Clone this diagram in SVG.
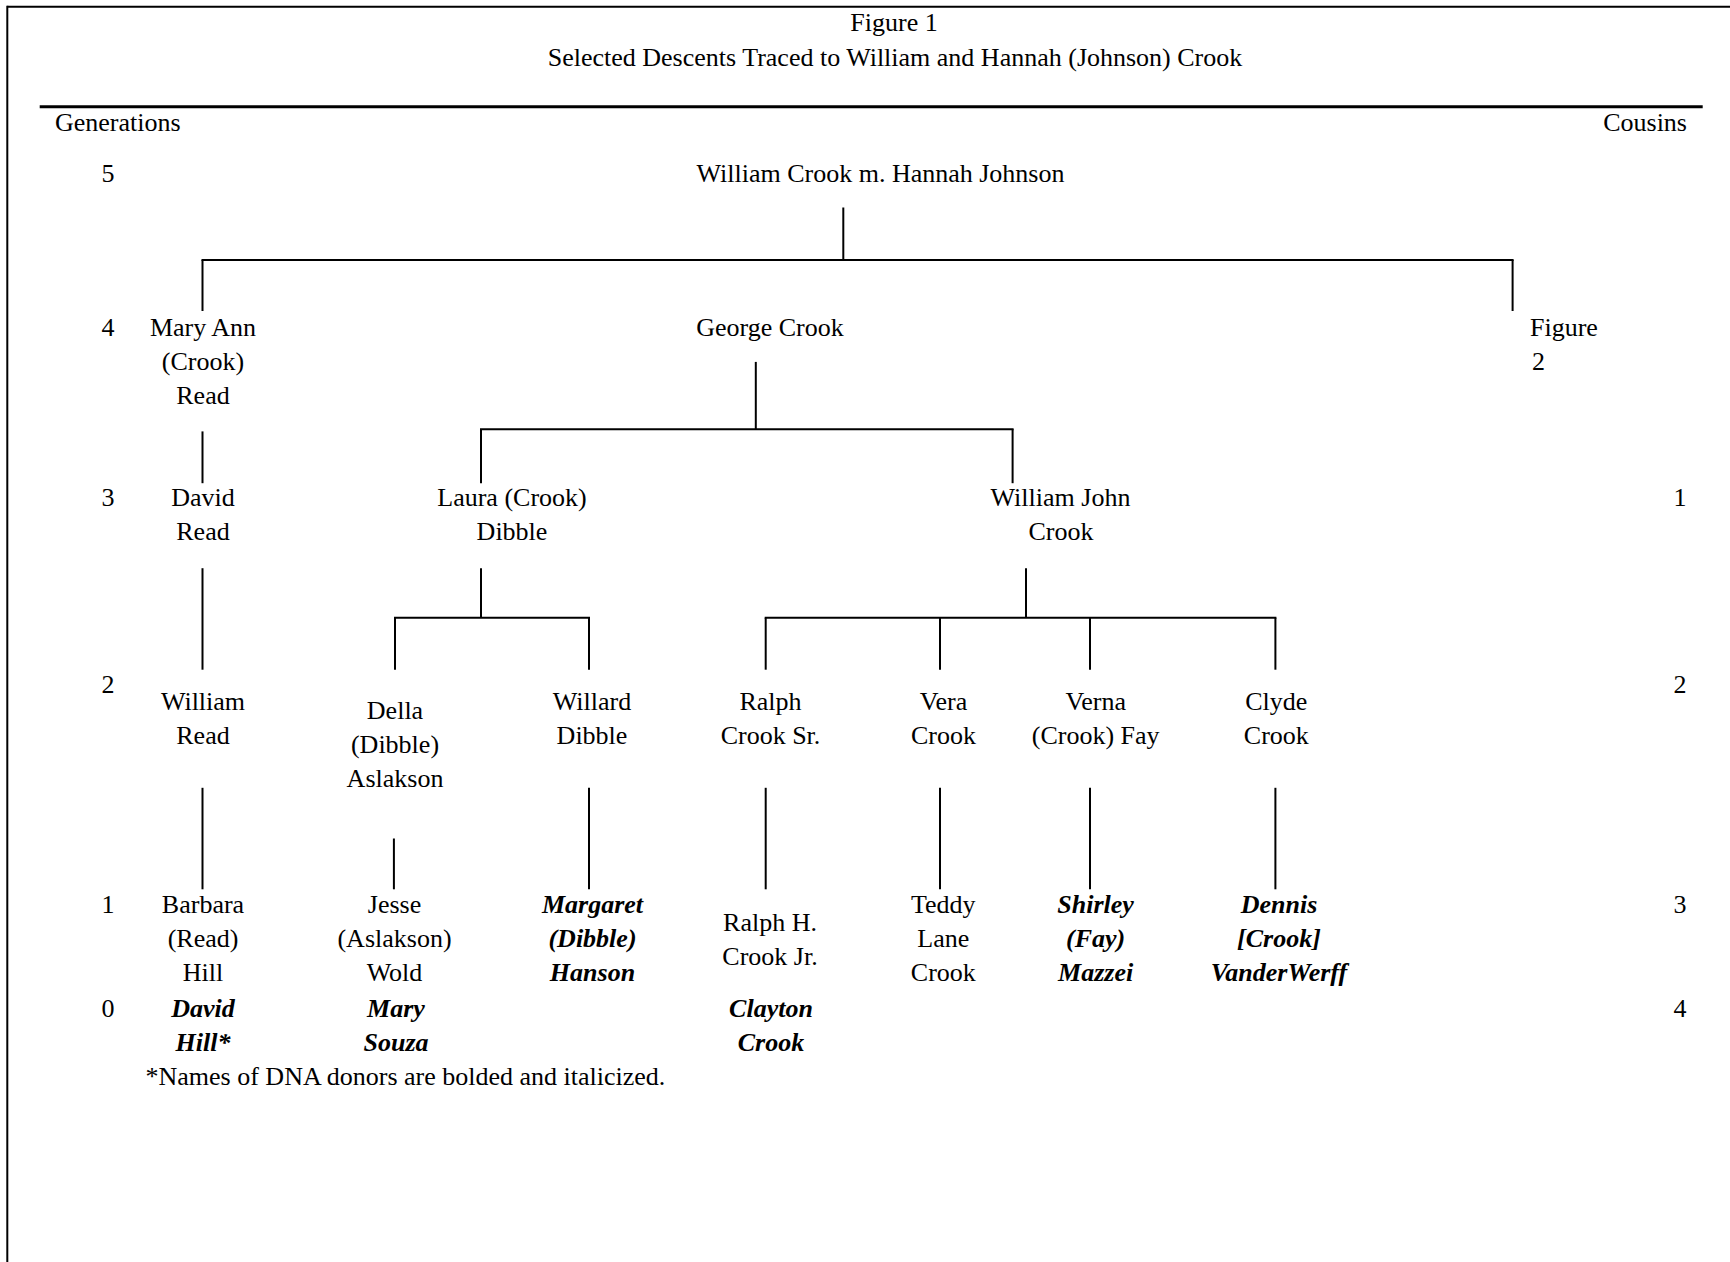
<svg xmlns="http://www.w3.org/2000/svg" width="1730" height="1262" viewBox="0 0 1730 1262">
<style>
text{font-family:"Liberation Serif","Times New Roman",serif;font-size:26px;fill:#000;text-anchor:middle}
.l{text-anchor:start}
.r{text-anchor:end}
.d{font-weight:bold;font-style:italic}
.c line{stroke:#000;stroke-width:2}
</style>
<rect width="1730" height="1262" fill="#fff"/>
<g id="frame">
<line x1="7.3" y1="6.7" x2="1730" y2="6.7" stroke="#000" stroke-width="2"/>
<line x1="7.3" y1="5.7" x2="7.3" y2="1262" stroke="#000" stroke-width="2"/>
<line x1="39.7" y1="106.7" x2="1702.7" y2="106.7" stroke="#000" stroke-width="3"/>
</g>
<g id="header">
<text x="894" y="30.5">Figure 1</text>
<text x="895" y="66">Selected Descents Traced to William and Hannah (Johnson) Crook</text>
<text class="l" x="55" y="131">Generations</text>
<text class="r" x="1687" y="131">Cousins</text>
</g>
<g id="generations">
<text x="108" y="181.7">5</text>
<text x="108" y="336">4</text>
<text x="108" y="506">3</text>
<text x="108" y="693">2</text>
<text x="108" y="913">1</text>
<text x="108" y="1017">0</text>
</g>
<g id="cousins">
<text x="1680" y="506">1</text>
<text x="1680" y="693">2</text>
<text x="1680" y="913">3</text>
<text x="1680" y="1017">4</text>
</g>
<g id="connectors" class="c">
<line x1="843.3" y1="207.5" x2="843.3" y2="260"/>
<line x1="201.5" y1="260" x2="1513.6" y2="260"/>
<line x1="202.5" y1="260" x2="202.5" y2="311"/>
<line x1="1512.6" y1="260" x2="1512.6" y2="311"/>
<line x1="202.5" y1="431.4" x2="202.5" y2="483.2"/>
<line x1="755.8" y1="361.9" x2="755.8" y2="429.2"/>
<line x1="480" y1="429.2" x2="1013.6" y2="429.2"/>
<line x1="481" y1="429.2" x2="481" y2="483.2"/>
<line x1="1012.6" y1="429.2" x2="1012.6" y2="483.2"/>
<line x1="202.5" y1="568.2" x2="202.5" y2="669.7"/>
<line x1="481" y1="568.2" x2="481" y2="617.8"/>
<line x1="394" y1="617.8" x2="590" y2="617.8"/>
<line x1="395" y1="617.8" x2="395" y2="669.7"/>
<line x1="589" y1="617.8" x2="589" y2="669.7"/>
<line x1="1026" y1="568.2" x2="1026" y2="617.8"/>
<line x1="764.7" y1="617.8" x2="1276.4" y2="617.8"/>
<line x1="765.7" y1="617.8" x2="765.7" y2="669.7"/>
<line x1="940" y1="617.8" x2="940" y2="669.7"/>
<line x1="1090" y1="617.8" x2="1090" y2="669.7"/>
<line x1="1275.4" y1="617.8" x2="1275.4" y2="669.7"/>
<line x1="202.5" y1="787.8" x2="202.5" y2="889.3"/>
<line x1="393.9" y1="838.5" x2="393.9" y2="889.3"/>
<line x1="589" y1="787.8" x2="589" y2="889.3"/>
<line x1="765.7" y1="787.8" x2="765.7" y2="889.3"/>
<line x1="940" y1="787.8" x2="940" y2="889.3"/>
<line x1="1090" y1="787.8" x2="1090" y2="889.3"/>
<line x1="1275.4" y1="787.8" x2="1275.4" y2="889.3"/>
</g>
<g id="n-william-hannah"><text x="880.5" y="181.7">William Crook m. Hannah Johnson</text></g>
<g id="n-mary-ann"><text x="203" y="336">Mary Ann</text><text x="203" y="370">(Crook)</text><text x="203" y="404">Read</text></g>
<g id="n-george"><text x="770" y="336">George Crook</text></g>
<g id="n-figure2"><text class="l" x="1530" y="336">Figure</text><text class="l" x="1532" y="370">2</text></g>
<g id="n-david-read"><text x="203" y="506">David</text><text x="203" y="540">Read</text></g>
<g id="n-laura"><text x="512" y="506">Laura (Crook)</text><text x="512" y="540">Dibble</text></g>
<g id="n-william-john"><text x="1060.5" y="506">William John</text><text x="1061" y="540">Crook</text></g>
<g id="n-william-read"><text x="203" y="710">William</text><text x="203" y="744">Read</text></g>
<g id="n-della"><text x="395" y="719">Della</text><text x="395" y="753">(Dibble)</text><text x="395" y="787">Aslakson</text></g>
<g id="n-willard"><text x="592" y="710">Willard</text><text x="592" y="744">Dibble</text></g>
<g id="n-ralph-sr"><text x="770.5" y="710">Ralph</text><text x="770.5" y="744">Crook Sr.</text></g>
<g id="n-vera"><text x="943.5" y="710">Vera</text><text x="943.5" y="744">Crook</text></g>
<g id="n-verna"><text x="1095.7" y="710">Verna</text><text x="1095.7" y="744">(Crook) Fay</text></g>
<g id="n-clyde"><text x="1276.3" y="710">Clyde</text><text x="1276.3" y="744">Crook</text></g>
<g id="n-barbara"><text x="203" y="913">Barbara</text><text x="203" y="947">(Read)</text><text x="203" y="981">Hill</text></g>
<g id="n-jesse"><text x="394.5" y="913">Jesse</text><text x="394.5" y="947">(Aslakson)</text><text x="394.5" y="981">Wold</text></g>
<g id="n-margaret"><text class="d" x="592.5" y="913">Margaret</text><text class="d" x="592.5" y="947">(Dibble)</text><text class="d" x="592.5" y="981">Hanson</text></g>
<g id="n-ralph-jr"><text x="770" y="931">Ralph H.</text><text x="770" y="965">Crook Jr.</text></g>
<g id="n-teddy"><text x="943.3" y="913">Teddy</text><text x="943.3" y="947">Lane</text><text x="943.3" y="981">Crook</text></g>
<g id="n-shirley"><text class="d" x="1095.6" y="913">Shirley</text><text class="d" x="1095.6" y="947">(Fay)</text><text class="d" x="1095.6" y="981">Mazzei</text></g>
<g id="n-dennis"><text class="d" x="1279" y="913">Dennis</text><text class="d" x="1279" y="947">[Crook]</text><text class="d" x="1279" y="981">VanderWerff</text></g>
<g id="n-david-hill"><text class="d" x="203" y="1017">David</text><text class="d" x="203" y="1051">Hill*</text></g>
<g id="n-mary-souza"><text class="d" x="396" y="1017">Mary</text><text class="d" x="396" y="1051">Souza</text></g>
<g id="n-clayton"><text class="d" x="771" y="1017">Clayton</text><text class="d" x="771" y="1051">Crook</text></g>
<g id="footnote"><text class="l" x="145.5" y="1085">*Names of DNA donors are bolded and italicized.</text></g>
</svg>
